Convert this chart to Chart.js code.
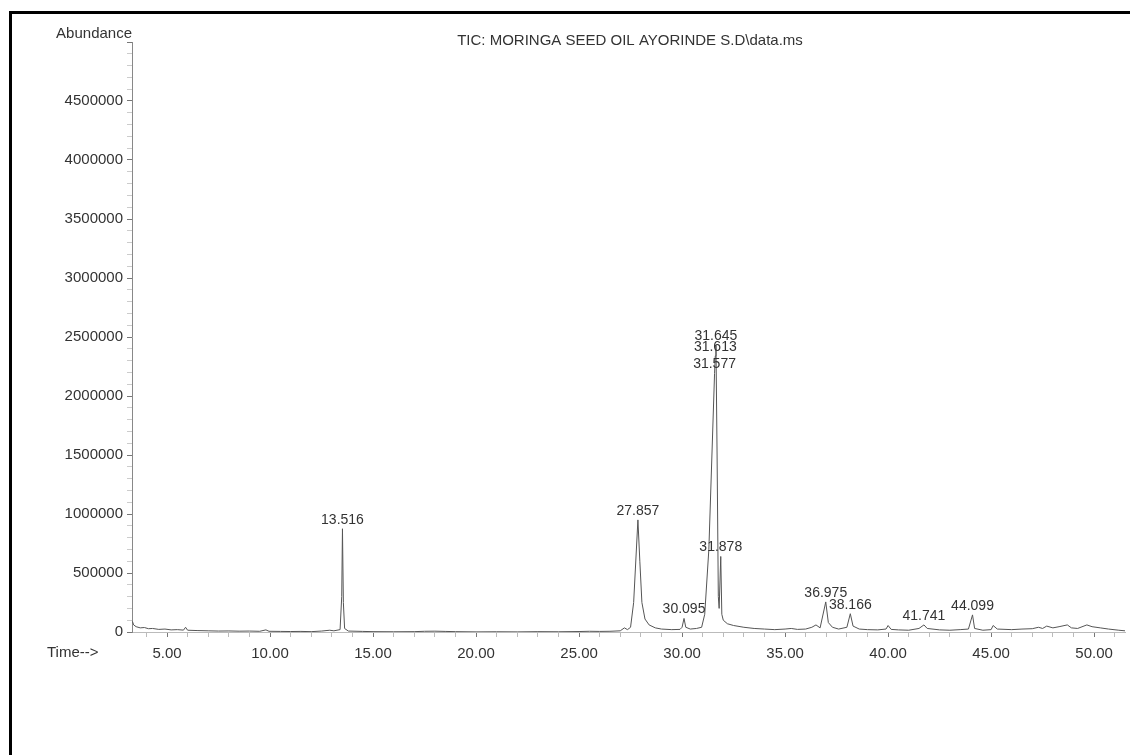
<!DOCTYPE html>
<html>
<head>
<meta charset="utf-8">
<title>TIC: MORINGA SEED OIL</title>
<script src="https://cdn.jsdelivr.net/npm/chart.js@4.4.1/dist/chart.umd.min.js"></script>
<style>
  body { margin: 0; background: #fff; }
  #wrap { position: relative; width: 1130px; height: 755px; }
  #frame { position: absolute; left: 9px; top: 11px; right: 0; bottom: 0; border-top: 3px solid #000; border-left: 3px solid #000; }
  #chart { position: absolute; left: 0; top: 0; }
</style>
</head>
<body>
<div id="wrap">
  <div id="frame"></div>
  <canvas id="chart" width="1130" height="755"></canvas>
</div>
<script>
// retention time (min) and abundance
const times = [
    3.32, 3.38, 3.5, 3.7, 3.9, 4.1, 4.3, 4.6, 4.9, 5.2, 5.5, 5.8, 5.9, 6.0, 6.5, 7.0, 7.5, 8.0, 8.5, 9.0,
    9.5, 9.8, 9.95, 10.5, 11.0, 11.5, 12.0, 12.5, 12.9, 13.1, 13.4, 13.48, 13.516, 13.56, 13.62, 13.8, 14.5,
    15.0, 16.0, 17.0, 17.5, 18.0, 18.5, 19.0, 20.0, 21.0, 22.0, 23.0, 24.0, 25.0, 25.5, 26.0, 26.5, 27.0,
    27.2, 27.35, 27.5, 27.65, 27.857, 27.95, 28.05, 28.2, 28.4, 28.7, 29.0, 29.5, 29.9, 30.0, 30.095, 30.18,
    30.4, 30.7, 30.95, 31.1, 31.3, 31.45, 31.577, 31.613, 31.645, 31.7, 31.76, 31.8, 31.878, 31.93, 32.0,
    32.2, 32.5, 33.0, 33.5, 34.0, 34.5, 35.0, 35.3, 35.6, 36.0, 36.3, 36.5, 36.7, 36.975, 37.1, 37.3, 37.6,
    38.0, 38.166, 38.3, 38.6, 39.0, 39.5, 39.9, 40.0, 40.15, 40.5, 41.0, 41.5, 41.741, 41.9, 42.5, 43.0,
    43.5, 43.9, 44.099, 44.2, 44.6, 45.0, 45.1, 45.3, 46.0, 46.5, 47.0, 47.3, 47.5, 47.7, 48.0, 48.3, 48.7,
    48.9, 49.2, 49.65, 49.9, 50.3, 50.7, 51.2, 51.5
];
const abundance = [
    90000, 60000, 45000, 35000, 38000, 28000, 30000, 22000, 25000, 18000, 20000, 16000, 40000, 15000, 12000, 10000, 8000, 9000, 7000, 8000,
    6000, 18000, 6000, 5000, 4000, 5000, 3000, 8000, 15000, 10000, 20000, 300000, 875000, 250000, 30000, 8000, 5000,
    3000, 2000, 3000, 6000, 7000, 5000, 3000, 1000, 2000, 1000, 3000, 2000, 4000, 6000, 5000, 6000, 10000,
    35000, 20000, 40000, 250000, 950000, 600000, 250000, 110000, 60000, 35000, 25000, 20000, 22000, 40000, 115000, 40000,
    25000, 30000, 40000, 150000, 700000, 1500000, 2190000, 2340000, 2430000, 1500000, 300000, 200000, 640000, 150000, 100000,
    70000, 55000, 40000, 30000, 25000, 20000, 25000, 30000, 22000, 25000, 40000, 60000, 35000, 255000, 80000, 40000, 25000,
    40000, 155000, 50000, 25000, 20000, 18000, 25000, 55000, 22000, 18000, 15000, 30000, 60000, 30000, 18000, 15000,
    20000, 25000, 145000, 30000, 15000, 20000, 55000, 25000, 20000, 25000, 28000, 40000, 30000, 50000, 35000, 45000, 60000,
    35000, 30000, 60000, 45000, 35000, 25000, 15000, 10000
];
// peaks that carry a retention-time label
const peakTimes = [13.516, 27.857, 30.095, 31.577, 31.613, 31.645, 31.878, 36.975, 38.166, 41.741, 44.099];

const xTicks = [];
for (let t = 4; t <= 51; t++) xTicks.push(t);
const yTicks = [];
for (let v = 0; v <= 5000000; v += 100000) yTicks.push(v);

const FONT = '"Liberation Sans", Arial, sans-serif';
const INK = '#333';

const annotate = {
    id: 'annotate',
    afterDatasetsDraw(chart) {
        const { ctx, chartArea, scales: { x, y } } = chart;
        ctx.save();
        ctx.fillStyle = INK;
        ctx.font = '14px ' + FONT;
        ctx.textAlign = 'center';
        ctx.textBaseline = 'bottom';
        peakTimes.forEach(t => {
            const v = abundance[times.indexOf(t)];
            ctx.fillText(t.toFixed(3), x.getPixelForValue(t), y.getPixelForValue(v) - 2);
        });
        ctx.font = '15px ' + FONT;
        ctx.textAlign = 'right';
        ctx.textBaseline = 'alphabetic';
        ctx.fillText('Abundance', chartArea.left, 38);
        ctx.textAlign = 'center';
        ctx.fillText('TIC: MORINGA SEED OIL AYORINDE S.D\\data.ms', 630, 45);
        ctx.textAlign = 'left';
        ctx.textBaseline = 'middle';
        ctx.fillText('Time-->', 47, chartArea.bottom + 21);
        ctx.restore();
    }
};

new Chart(document.getElementById('chart'), {
    type: 'line',
    data: {
        datasets: [{
            data: times.map((t, i) => ({ x: t, y: abundance[i] })),
            borderColor: '#555',
            borderWidth: 1,
            pointRadius: 0,
            tension: 0,
            fill: false,
        }]
    },
    options: {
        responsive: false,
        animation: false,
        layout: { padding: { top: 42, right: 5, left: 0, bottom: 0 } },
        plugins: {
            legend: { display: false },
            tooltip: { enabled: false },
        },
        scales: {
            x: {
                type: 'linear',
                min: 3.3,
                max: 51.5,
                afterBuildTicks: s => { s.ticks = xTicks.map(v => ({ value: v })); },
                afterFit: s => { s.height = 123; },
                border: { color: '#bbb', width: 1 },
                grid: {
                    drawOnChartArea: false,
                    tickLength: 5,
                    tickColor: c => (c.tick && c.tick.value % 5 === 0) ? '#777' : '#bbb',
                },
                ticks: {
                    autoSkip: false,
                    maxRotation: 0,
                    padding: 8,
                    color: INK,
                    font: { family: FONT, size: 15 },
                    callback: v => v % 5 === 0 ? v.toFixed(2) : '',
                },
            },
            y: {
                min: 0,
                max: 5000000,
                afterBuildTicks: s => { s.ticks = yTicks.map(v => ({ value: v })); },
                afterFit: s => { s.width = 132; },
                border: { color: '#888', width: 1 },
                grid: {
                    drawOnChartArea: false,
                    tickLength: 5,
                    tickColor: c => (c.tick && c.tick.value % 500000 === 0) ? '#777' : '#ccc',
                },
                ticks: {
                    autoSkip: false,
                    padding: 4,
                    color: INK,
                    font: { family: FONT, size: 15 },
                    callback: v => (v % 500000 === 0 && v < 5000000) ? String(v) : '',
                },
            },
        },
    },
    plugins: [annotate],
});
</script>
</body>
</html>
